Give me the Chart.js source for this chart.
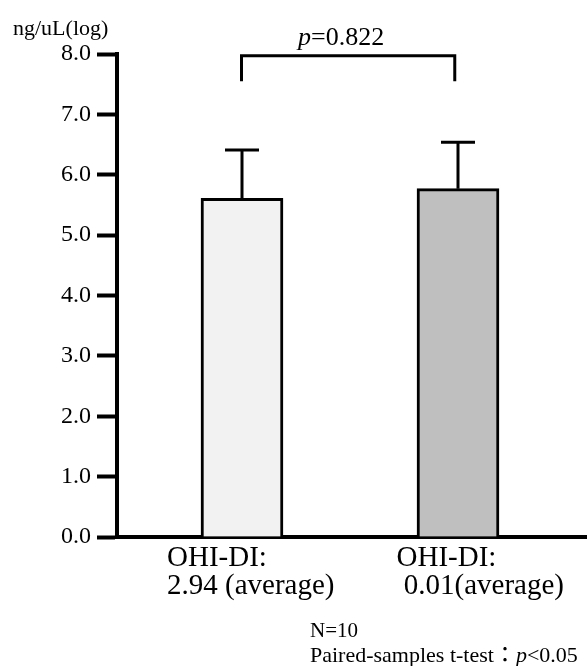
<!DOCTYPE html>
<html>
<head>
<meta charset="utf-8">
<script src="https://cdn.jsdelivr.net/npm/chart.js@4/dist/chart.umd.min.js"></script>
<style>
  html, body { margin: 0; padding: 0; background: #fff; }
  #wrap { width: 587px; height: 666px; position: relative; }
</style>
</head>
<body>
<div id="wrap"><canvas id="c"></canvas></div>
<script>
// ---- data ----
const categories = [["OHI-DI:", "2.94 (average)"], ["OHI-DI:", " 0.01(average)"]];
const means = [5.61, 5.77];
const errors = [0.80, 0.77];
const yTickValues = [0, 1, 2, 3, 4, 5, 6, 7, 8];
const yUnit = "ng/uL(log)";
const pValueText = "=0.822";
const footNote1 = "N=10";
const footNote2 = "Paired-samples t-test\uFF1A";
const footNote2b = "<0.05";

const SERIF = "'Liberation Serif', 'Times New Roman', serif";

const overlay = {
  id: 'overlay',
  afterDatasetsDraw(chart) {
    const ctx = chart.ctx;
    const xs = chart.scales.x, ys = chart.scales.y;
    ctx.save();
    ctx.strokeStyle = '#000';
    ctx.fillStyle = '#000';
    ctx.lineWidth = 3;
    ctx.lineCap = 'butt';
    // error bars
    means.forEach((m, i) => {
      const x = xs.getPixelForValue(i);
      const yTop = ys.getPixelForValue(m);
      const yErr = ys.getPixelForValue(m + errors[i]);
      ctx.beginPath();
      ctx.moveTo(x, yTop);
      ctx.lineTo(x, yErr);
      ctx.moveTo(x - 17, yErr);
      ctx.lineTo(x + 17, yErr);
      ctx.stroke();
    });
    // significance bracket
    const bx1 = xs.getPixelForValue(0) - 0.5;
    const bx2 = xs.getPixelForValue(0.985);
    const byTop = ys.getPixelForValue(7.97);
    const byLeg = ys.getPixelForValue(7.55);
    ctx.beginPath();
    ctx.moveTo(bx1, byLeg);
    ctx.lineTo(bx1, byTop);
    ctx.lineTo(bx2, byTop);
    ctx.lineTo(bx2, byLeg);
    ctx.stroke();
    // p value text
    ctx.textBaseline = 'alphabetic';
    ctx.textAlign = 'left';
    ctx.font = "italic 26px " + SERIF;
    const px = 298;
    ctx.fillText('p', px, 45);
    const pw = ctx.measureText('p').width;
    ctx.font = "26px " + SERIF;
    ctx.fillText(pValueText, px + pw, 45);
    // y unit label
    ctx.font = "22px " + SERIF;
    ctx.fillText(yUnit, 13, 35);
    // category labels (left-aligned blocks)
    const dx = [-75, -61.5];
    ctx.font = "29px " + SERIF;
    categories.forEach((lines, i) => {
      const x0 = xs.getPixelForValue(i) + dx[i];
      lines.forEach((ln, j) => ctx.fillText(ln, x0, 566 + j * 28));
    });
    // footnotes
    ctx.font = "21px " + SERIF;
    ctx.fillText(footNote1, 310, 637);
    ctx.font = "22px 'Liberation Serif', 'Noto Sans CJK JP', serif";
    ctx.fillText(footNote2, 310, 662);
    let w = ctx.measureText(footNote2).width;
    ctx.font = "italic 22px " + SERIF;
    ctx.fillText('p', 310 + w, 662);
    w += ctx.measureText('p').width;
    ctx.font = "22px " + SERIF;
    ctx.fillText(footNote2b, 310 + w, 662);
    ctx.restore();
  }
};

new Chart(document.getElementById('c'), {
  type: 'bar',
  data: {
    datasets: [{
      data: means.map((v, i) => ({ x: i, y: v })),
      backgroundColor: ['#f2f2f2', '#bfbfbf'],
      borderColor: '#000',
      borderWidth: 3,
      barThickness: 82
    }]
  },
  options: {
    responsive: true,
    maintainAspectRatio: false,
    animation: false,
    layout: { padding: { top: 54, right: 0, bottom: 0, left: 0 } },
    plugins: { legend: { display: false }, tooltip: { enabled: false } },
    scales: {
      x: {
        type: 'linear',
        offset: false,
        min: -0.5787,
        max: 1.5972,
        grid: { display: false, offset: false },
        border: { display: true, color: '#000', width: 4 },
        ticks: { display: false },
        afterFit(s) { s.height = 129; }
      },
      y: {
        min: 0,
        max: 8,
        afterBuildTicks(s) { s.ticks = yTickValues.map(v => ({ value: v })); },
        grid: {
          display: true,
          drawOnChartArea: false,
          drawTicks: true,
          tickLength: 20,
          tickWidth: 4,
          tickColor: '#000',
          color: '#000'
        },
        border: { display: true, color: '#000', width: 4 },
        ticks: {
          color: '#000',
          padding: 6,
          font: { family: SERIF, size: 24 },
          callback: v => Number(v).toFixed(1)
        },
        afterFit(s) { s.width = 117; }
      }
    }
  },
  plugins: [overlay]
});
</script>
</body>
</html>
